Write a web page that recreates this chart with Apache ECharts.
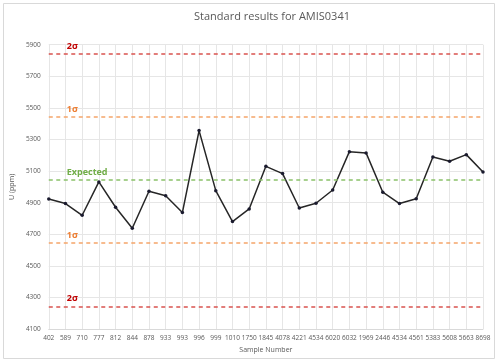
<!DOCTYPE html>
<html><head><meta charset="utf-8">
<script src="https://cdn.jsdelivr.net/npm/echarts@6/dist/echarts.min.js"></script>
<style>html,body{margin:0;padding:0;background:#fff}#c{width:499px;height:363px}</style>
</head><body><div id="c"></div>
<script>
var categories = ['402','589','710','777','812','844','878','933','993','996','999','1010','1750','1845','4078','4221','4534','6020','6032','1969','2446','4534','4561','5383','5608','5663','8698'];
var values = [4923,4894,4820,5031,4871,4738,4972,4944,4837,5356,4976,4780,4860,5130,5084,4866,4896,4980,5223,5215,4966,4894,4925,5189,5162,5204,5094];
var expected = 5043;
var plus1 = 5443, plus2 = 5843, minus1 = 4643, minus2 = 4243;
var yTicks = {min: 4100, max: 5900, interval: 200};

var chart = echarts.init(document.getElementById('c'));
function ml(v, txt, col, lcol){
  return {yAxis: v, lineStyle:{color: col, type:[4,3.5], width:1.5},
    label:{show:true, formatter: txt, position:'insideStartTop', distance:[18,3], color: lcol, fontSize:9, fontWeight:'bold', fontFamily:'Open Sans'}};
}
chart.setOption({
  animation:false,
  title:{text:'Standard results for AMIS0341', left:267, textAlign:'center', top:6,
    textStyle:{fontSize:11, fontWeight:'normal', color:'#595959', fontFamily:'Open Sans'}},
  graphic:[{type:'rect', shape:{x:3.5,y:3.5,width:491,height:355}, style:{fill:'none', stroke:'#d9d9d9', lineWidth:1}, silent:true}],
  grid:{left:38, right:16, top:44.7, bottom:34},
  xAxis:{type:'category', data:categories, boundaryGap:false,
    name:'Sample Number', nameLocation:'middle', nameGap:17,
    nameTextStyle:{fontSize:7, color:'#595959', fontFamily:'Open Sans'},
    axisLine:{lineStyle:{color:'#d9d9d9'}}, axisTick:{show:false},
    axisLabel:{fontSize:6.5, color:'#595959', interval:0, margin:6, fontFamily:'Open Sans'},
    splitLine:{show:true, lineStyle:{color:'#e6e6e6'}}},
  yAxis:{type:'value', min:yTicks.min, max:yTicks.max, interval:yTicks.interval,
    name:'U (ppm)', nameLocation:'middle', nameGap:24,
    nameTextStyle:{fontSize:7, color:'#595959', fontFamily:'Open Sans'},
    axisLine:{show:false}, axisTick:{show:false},
    axisLabel:{fontSize:6.5, color:'#595959', margin:8, fontFamily:'Open Sans', formatter:function(v){return String(v);}},
    splitLine:{lineStyle:{color:'#e6e6e6'}}},
  series:[{type:'line', data:values, symbol:'circle', symbolSize:3.5,
    lineStyle:{color:'#262626', width:1.5}, itemStyle:{color:'#1a1a2e'},
    markLine:{silent:true, symbol:'none',
      data:[ml(plus2,'2σ','#d9534f','#c00000'), ml(plus1,'1σ','#f5a56a','#ed7d31'),
            ml(expected,'Expected','#8bc16a','#70ad47'),
            ml(minus1,'1σ','#f5a56a','#ed7d31'), ml(minus2,'2σ','#d9534f','#c00000')]}}]
});
</script></body></html>
